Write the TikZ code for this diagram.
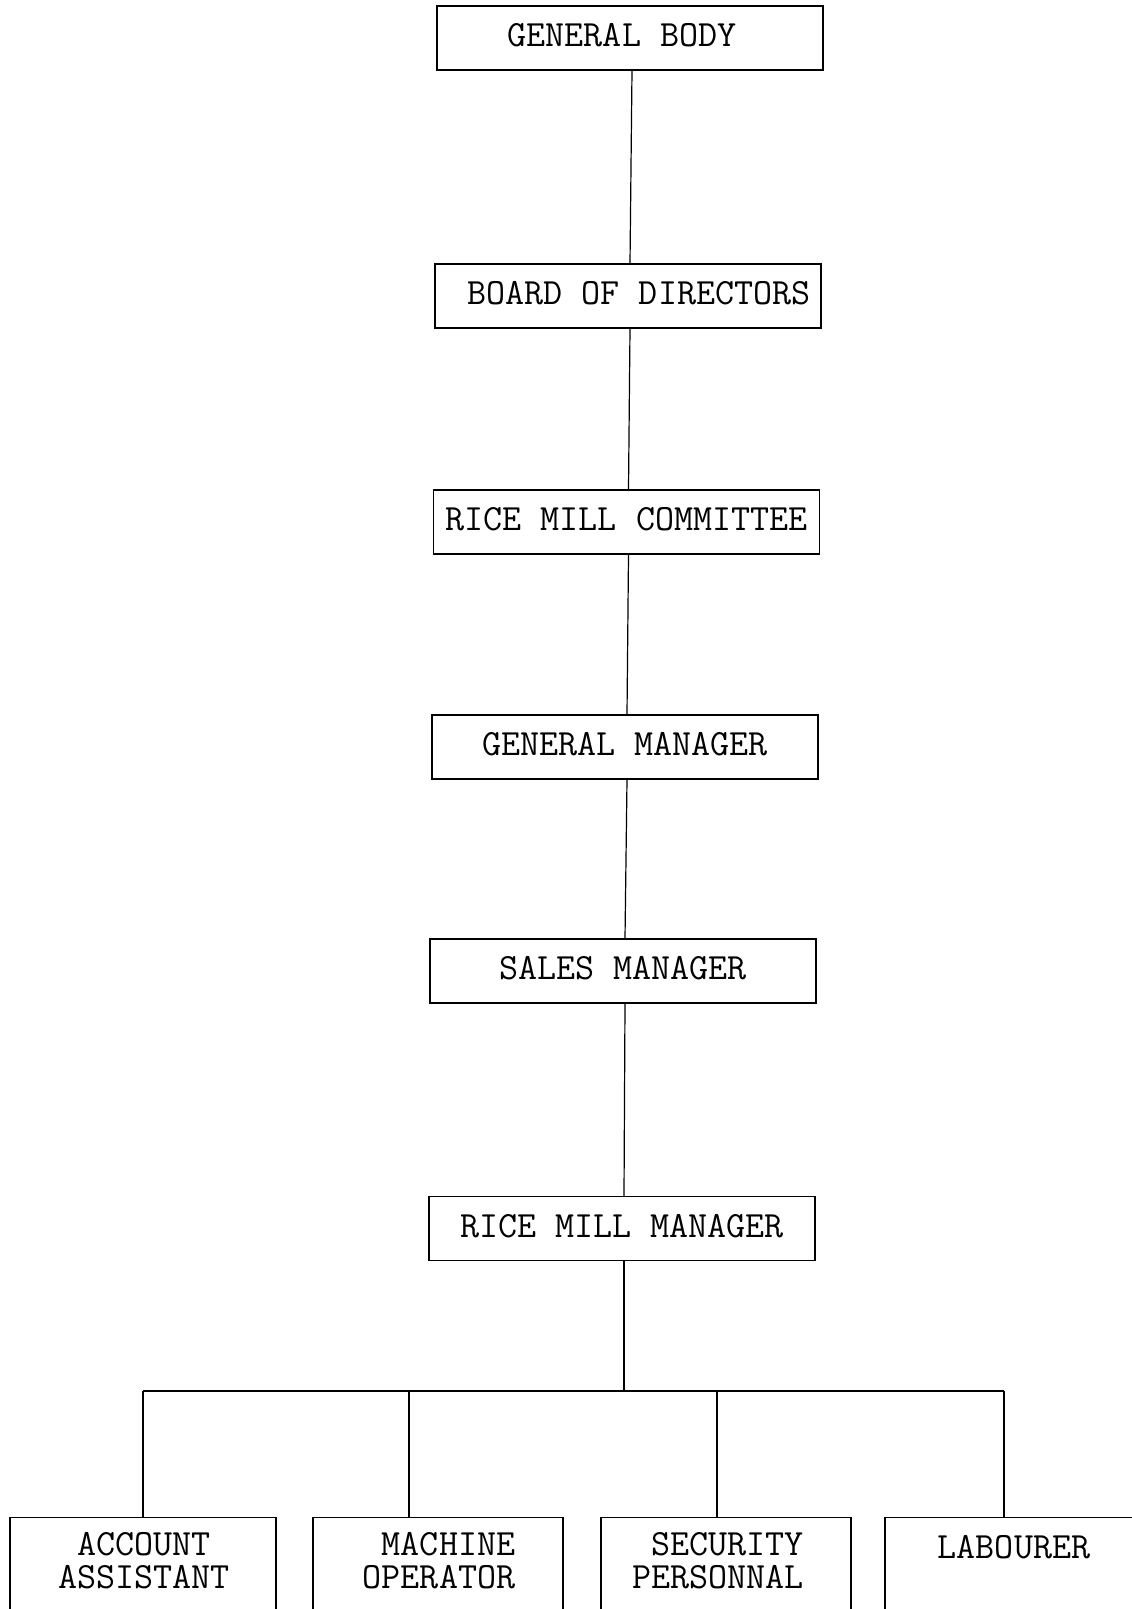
\documentclass[tikz,border=0pt]{standalone}
\usepackage{fontspec}
\newcommand\chartfont{\ttfamily\fontsize{37}{33}\selectfont}
\begin{document}
\begin{tikzpicture}[x=1pt,y=-1pt,
  orgbox/.style={draw, line width=1.3pt, minimum width=386pt, minimum height=64pt, inner sep=0pt, text depth=6pt, font=\chartfont},
  lowbox/.style={draw, line width=1.3pt, minimum height=130pt, inner sep=0pt, anchor=north},
  lowtext/.style={inner sep=0pt, font=\chartfont},
  conn/.style={line width=1.2pt}]
\useasboundingbox (0,0) rectangle (1132,1609);
\fill[white] (0,0) rectangle (1132,1609);
% chain of boxes
\node[orgbox] (gb)  at (630,38)    {GENERAL BODY\hspace*{16pt}};
\node[orgbox] (bod) at (628,296)   {\hspace*{22pt}BOARD OF DIRECTORS};
\node[orgbox] (rmc) at (626.5,522) {RICE MILL COMMITTEE};
\node[orgbox] (gm)  at (625,747)   {GENERAL MANAGER};
\node[orgbox] (sm)  at (623,971)   {SALES MANAGER};
\node[orgbox] (rmm) at (622,1228.5){RICE MILL MANAGER};
% bottom boxes
\node[lowbox, minimum width=266pt] (b1) at (143,1517) {};
\node[lowbox, minimum width=250pt] (b2) at (438,1517) {};
\node[lowbox, minimum width=250pt] (b3) at (726,1517) {};
\node[lowbox, minimum width=265pt] (b4) at (1017.5,1517) {};
\node[lowtext, align=center] (t1) at (144,1561) {ACCOUNT\\ASSISTANT};
\node[lowtext, align=left]   (t2) at (439,1561) {\hphantom{X}MACHINE\\OPERATOR};
\node[lowtext, align=right]  (t3) at (718,1561) {SECURITY\\PERSONNAL};
\node[lowtext] (t4) at (1014,1547) {LABOURER};
% connectors
\draw[conn] ([xshift=2pt]gb.south) -- ([xshift=2pt]bod.north);
\draw[conn] ([xshift=2pt]bod.south) -- ([xshift=2pt]rmc.north);
\draw[conn] ([xshift=2pt]rmc.south) -- ([xshift=2pt]gm.north);
\draw[conn] ([xshift=2pt]gm.south) -- ([xshift=2pt]sm.north);
\draw[conn] ([xshift=2pt]sm.south) -- ([xshift=2pt]rmm.north);
\coordinate (busy) at (0,1391);
\coordinate (d1) at (143,1517);
\coordinate (d2) at (409,1517);
\coordinate (d3) at (717,1517);
\coordinate (d4) at (1004,1517);
\draw[conn] ([xshift=2pt]rmm.south) -- ([xshift=2pt]rmm.south |- busy);
\draw[conn] (d1 |- busy) -- (d4 |- busy);
\draw[conn] (d1 |- busy) -- (d1);
\draw[conn] (d2 |- busy) -- (d2);
\draw[conn] (d3 |- busy) -- (d3);
\draw[conn] (d4 |- busy) -- (d4);
\end{tikzpicture}
\end{document}
